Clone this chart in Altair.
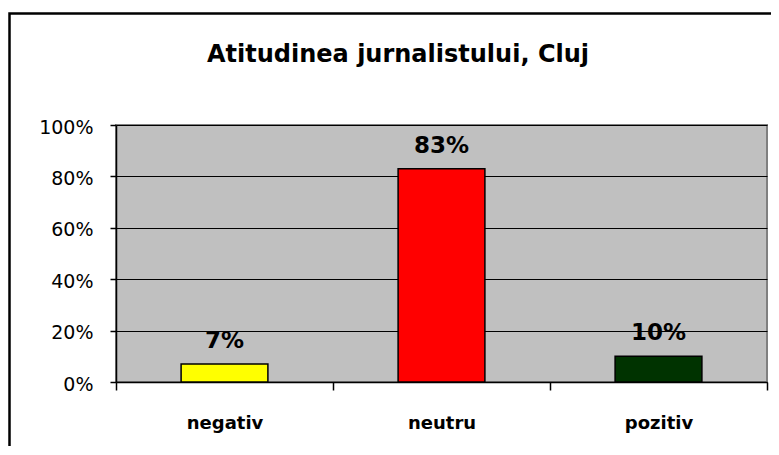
import altair as alt
import pandas as pd

categories = ["negativ", "neutru", "pozitiv"]
values = [0.07, 0.83, 0.10]
colors = ["#FFFF00", "#FF0000", "#003300"]
y_ticks = [0, 0.2, 0.4, 0.6, 0.8, 1.0]
title_text = "Atitudinea jurnalistului, Cluj"

df = pd.DataFrame({"cat": categories, "value": values})

FONT = "DejaVu Sans"

x_enc = alt.X(
    "cat:N",
    sort=categories,
    scale=alt.Scale(paddingInner=0, paddingOuter=0),
    axis=alt.Axis(
        title=None,
        tickBand="extent",
        tickSize=8,
        tickColor="black",
        tickWidth=1.5,
        domainColor="black",
        domainWidth=1.5,
        labelFont=FONT,
        labelFontSize=18,
        labelFontWeight="bold",
        labelColor="black",
        labelBaseline="alphabetic",
        labelPadding=38,
        labelAngle=0,
        grid=False,
    ),
)

y_enc = alt.Y(
    "value:Q",
    scale=alt.Scale(domain=[0, 1], nice=False),
    axis=alt.Axis(
        title=None,
        values=y_ticks,
        format=".0%",
        tickSize=6,
        tickColor="black",
        tickWidth=1.5,
        domainColor="black",
        domainWidth=1.5,
        grid=True,
        gridColor="black",
        gridWidth=1.2,
        gridOpacity=1,
        labelFont=FONT,
        labelFontSize=19,
        labelColor="black",
        labelPadding=17,
        labelOffset=2,
    ),
)

bars = alt.Chart(df).mark_bar(
    width=alt.RelativeBandSize(0.4), stroke="black", strokeWidth=1.5
).encode(
    x=x_enc,
    y=y_enc,
    color=alt.Color("cat:N", scale=alt.Scale(domain=categories, range=colors), legend=None),
)

labels = alt.Chart(df).mark_text(
    baseline="alphabetic", dy=-16, font=FONT, fontSize=23, fontWeight="bold", color="black"
).encode(
    x=alt.X("cat:N", sort=categories),
    y=alt.Y("value:Q"),
    text=alt.Text("value:Q", format=".0%"),
)

one = pd.DataFrame({"t": [title_text]})

border = alt.Chart(one).mark_rect(
    fillOpacity=0, stroke="black", strokeWidth=2.5
).encode(
    x=alt.value(-106.5), x2=alt.value(900), y=alt.value(-111.5), y2=alt.value(600)
)

title = alt.Chart(one).mark_text(
    font=FONT, fontSize=24, fontWeight="bold", color="black",
    align="center", baseline="alphabetic"
).encode(
    x=alt.value(282), y=alt.value(-63), text="t:N"
)

chart = alt.layer(bars, labels, border, title).properties(
    width=651,
    height=257,
    autosize=alt.AutoSizeParams(type="none"),
    padding={"left": 108, "top": 117, "right": 4, "bottom": 64},
).configure(
    background="white"
).configure_view(
    fill="#C0C0C0", stroke="#808080", strokeWidth=2
)

chart.save("out.html", embed_options={"renderer": "svg", "actions": False})
